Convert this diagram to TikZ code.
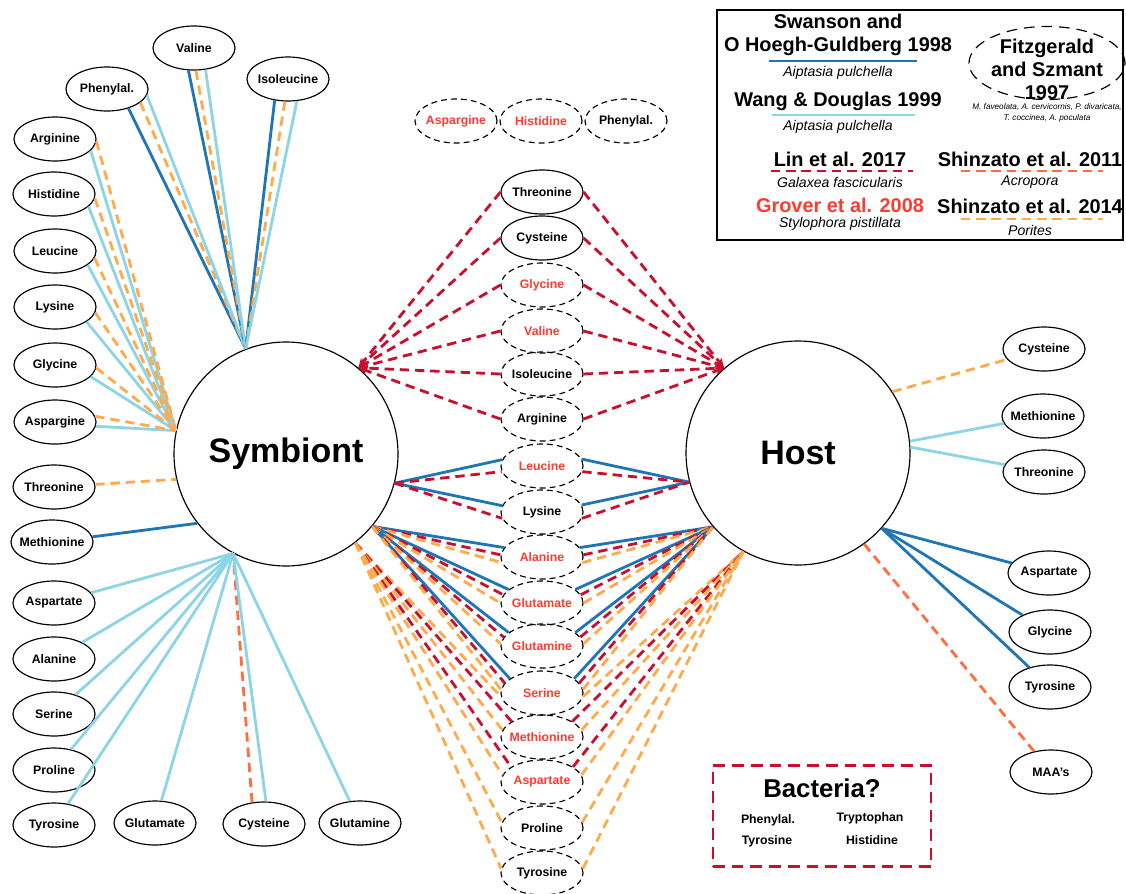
\documentclass[tikz,border=0pt]{standalone}
\usepackage{fontspec}
\setmainfont{Liberation Sans}
\usetikzlibrary{shapes.geometric,arrows.meta}

\definecolor{swanblue}{RGB}{31,117,182}
\definecolor{wangblue}{RGB}{140,212,230}
\definecolor{linred}{RGB}{200,16,46}
\definecolor{shzcoral}{RGB}{255,110,64}
\definecolor{shzorange}{RGB}{255,170,77}
\definecolor{groverred}{RGB}{255,59,48}

\tikzset{
  aanode/.style={ellipse, draw, line width=1pt, minimum width=2.46cm, minimum height=1.32cm,
    inner xsep=-5mm, inner ysep=0pt, font=\bfseries\fontsize{10.5}{12}\selectfont},
  aadash/.style={aanode, dash pattern=on 5pt off 3.5pt},
  hitred/.style={text=groverred},
  hub/.style={circle, draw, line width=1pt, minimum size=6.72cm, inner sep=0pt,
    font=\bfseries\fontsize{29}{34}\selectfont},
  swanline/.style={draw=swanblue, line width=2.4pt},
  wangline/.style={draw=wangblue, line width=2.4pt},
  linline/.style={draw=linred, line width=2.4pt, dash pattern=on 8pt off 5pt},
  shzaline/.style={draw=shzcoral, line width=2.4pt, dash pattern=on 8pt off 5pt},
  shzbline/.style={draw=shzorange, line width=2.4pt, dash pattern=on 8pt off 5pt},
  legendhead/.style={font=\bfseries\fontsize{17}{20}\selectfont, align=center, inner sep=0pt},
  legendsp/.style={font=\itshape\fontsize{12}{14}\selectfont, inner sep=0pt},
  bactitem/.style={font=\bfseries\fontsize{10.5}{12}\selectfont, inner sep=0pt}
}

\begin{document}
\begin{tikzpicture}[x=0.03cm, y=-0.03cm]
\useasboundingbox (0,0) rectangle (1126,893);
% Paths, nodes and wires:
\node[hub] (sym) at (286,454) {Symbiont};
\node[hub] (host) at (798,453) {Host};

% around the symbiont
\node[aanode] (l-phe) at (107,89) {Phenylal.};
\node[aanode] (l-val) at (194,48) {Valine};
\node[aanode] (l-ile) at (288,79) {Isoleucine};
\node[aanode] (l-arg) at (55,139) {Arginine};
\node[aanode] (l-his) at (54,194) {Histidine};
\node[aanode] (l-leu) at (55,251) {Leucine};
\node[aanode] (l-lys) at (55,307) {Lysine};
\node[aanode] (l-gly) at (55,365) {Glycine};
\node[aanode] (l-asn) at (55,422) {Aspargine};
\node[aanode] (l-thr) at (54,487) {Threonine};
\node[aanode] (l-met) at (52,542) {Methionine};
\node[aanode] (l-asp) at (54,603) {Aspartate};
\node[aanode] (l-ala) at (54,659) {Alanine};
\node[aanode] (l-ser) at (54,714) {Serine};
\node[aanode] (l-pro) at (54,770) {Proline};
\node[aanode] (l-tyr) at (54,825) {Tyrosine};
\node[aanode] (l-glu) at (155,823) {Glutamate};
\node[aanode] (l-cys) at (264,824) {Cysteine};
\node[aanode] (l-gln) at (360,823) {Glutamine};

% top row
\node[aadash, hitred] (t-asn) at (456,121) {Aspargine};
\node[aadash, hitred] (t-his) at (541,121) {Histidine};
\node[aadash] (t-phe) at (626,121) {Phenylal.};

% exchanged between symbiont and host
\node[aanode] (c-thr) at (542,192) {Threonine};
\node[aanode] (c-cys) at (542,238) {Cysteine};
\node[aadash, hitred] (c-gly) at (542,285) {Glycine};
\node[aadash, hitred] (c-val) at (542,331) {Valine};
\node[aadash] (c-ile) at (542,374) {Isoleucine};
\node[aadash] (c-arg) at (542,419) {Arginine};
\node[aadash, hitred] (c-leu) at (542,466) {Leucine};
\node[aadash] (c-lys) at (542,512) {Lysine};
\node[aadash, hitred] (c-ala) at (542,557) {Alanine};
\node[aadash, hitred] (c-glu) at (542,603) {Glutamate};
\node[aadash, hitred] (c-gln) at (542,646) {Glutamine};
\node[aadash, hitred] (c-ser) at (542,693) {Serine};
\node[aadash, hitred] (c-met) at (542,737) {Methionine};
\node[aadash, hitred] (c-asp) at (542,782) {Aspartate};
\node[aadash] (c-pro) at (542,828) {Proline};
\node[aadash] (c-tyr) at (542,873) {Tyrosine};

% around the host
\node[aanode] (r-cys) at (1044,349) {Cysteine};
\node[aanode] (r-met) at (1043,416) {Methionine};
\node[aanode] (r-thr) at (1044,472) {Threonine};
\node[aanode] (r-asp) at (1049,573) {Aspartate};
\node[aanode] (r-gly) at (1050,632) {Glycine};
\node[aanode] (r-tyr) at (1050,687) {Tyrosine};
\node[aanode] (r-maa) at (1051,772) {MAA's};

% meeting points on the circles
\coordinate (sT) at (sym.111);
\coordinate (sL) at (sym.168);
\coordinate (sThr) at (sym.193);
\coordinate (sMet) at (sym.218);
\coordinate (sB) at (sym.242);
\coordinate (sA) at (sym.50);
\coordinate (sC) at (sym.-15);
\coordinate (sD) at (sym.-40);
\coordinate (sE) at (sym.-52);
\coordinate (hA) at (host.131);
\coordinate (hC) at (host.195);
\coordinate (hD) at (host.221);
\coordinate (hE) at (host.241);
\coordinate (hCys) at (host.33);
\coordinate (hMet) at (host.6);
\coordinate (hThr) at (host.3);
\coordinate (hF) at (host.-42);
\coordinate (hMaa) at (host.-54);

% symbiont, top
\draw[swanline] (l-phe.-42) -- (sT);
\draw[shzbline] (l-phe.-22) -- (sT);
\draw[wangline] (l-phe.-9) -- (sT);
\draw[swanline] (l-val.-104) -- (sT);
\draw[shzbline] (l-val.-85) -- (sT);
\draw[wangline] (l-val.-62) -- (sT);
\draw[swanline] (l-ile.-122) -- (sT);
\draw[shzbline] (l-ile.-98) -- (sT);
\draw[wangline] (l-ile.-68) -- (sT);

% symbiont, left
\draw[wangline] (l-arg.-18) -- (sL);
\draw[shzbline] (l-arg.-3) -- (sL);
\draw[wangline] (l-his.-20) -- (sL);
\draw[shzbline] (l-his.-6) -- (sL);
\draw[wangline] (l-leu.-23) -- (sL);
\draw[shzbline] (l-leu.-10) -- (sL);
\draw[wangline] (l-lys.-25) -- (sL);
\draw[shzbline] (l-lys.-8) -- (sL);
\draw[wangline] (l-gly.-18) -- (sL);
\draw[shzbline] (l-gly.-4) -- (sL);
\draw[wangline] (l-asn.-6) -- (sL);
\draw[shzbline] (l-asn.8) -- (sL);
\draw[shzbline] (l-thr) -- (sThr);
\draw[swanline] (l-met) -- (sMet);

% symbiont, bottom
\draw[wangline] (l-asp) -- (sB);
\draw[wangline] (l-ala) -- (sB);
\draw[wangline] (l-ser) -- (sB);
\draw[wangline] (l-pro) -- (sB);
\draw[wangline] (l-tyr) -- (sB);
\draw[wangline] (l-glu) -- (sB);
\draw[shzaline] (l-cys.119) -- (sB);
\draw[wangline] (l-cys.85) -- (sB);
\draw[wangline] (l-gln) -- (sB);

% host, right
\draw[shzbline] (hCys) -- (r-cys);
\draw[wangline] (hMet) -- (r-met);
\draw[wangline] (hThr) -- (r-thr);
\draw[swanline] (hF) -- (r-asp);
\draw[swanline] (hF) -- (r-gly);
\draw[swanline] (hF) -- (r-tyr);
\draw[shzaline] (hMaa) -- (r-maa);

% to both, with arrows
\draw[linline, -{Stealth[length=8pt,width=7pt]}] (c-thr.west) -- (sA);
\draw[linline, -{Stealth[length=8pt,width=7pt]}] (c-cys.west) -- (sA);
\draw[linline, -{Stealth[length=8pt,width=7pt]}] (c-gly.west) -- (sA);
\draw[linline, -{Stealth[length=8pt,width=7pt]}] (c-val.west) -- (sA);
\draw[linline, -{Stealth[length=8pt,width=7pt]}] (c-ile.west) -- (sA);
\draw[linline, -{Stealth[length=8pt,width=7pt]}] (c-arg.west) -- (sA);
\draw[linline, -{Stealth[length=8pt,width=7pt]}] (c-thr.east) -- (hA);
\draw[linline, -{Stealth[length=8pt,width=7pt]}] (c-cys.east) -- (hA);
\draw[linline, -{Stealth[length=8pt,width=7pt]}] (c-gly.east) -- (hA);
\draw[linline, -{Stealth[length=8pt,width=7pt]}] (c-val.east) -- (hA);
\draw[linline, -{Stealth[length=8pt,width=7pt]}] (c-ile.east) -- (hA);
\draw[linline, -{Stealth[length=8pt,width=7pt]}] (c-arg.east) -- (hA);

% leucine, lysine
\draw[swanline] (sC) -- (c-leu.171);
\draw[linline] (sC) -- (c-leu.188);
\draw[swanline] (sC) -- (c-lys.171);
\draw[linline] (sC) -- (c-lys.189);
\draw[swanline] (c-leu.10) -- (hC);
\draw[linline] (c-leu.-8) -- (hC);
\draw[swanline] (c-lys.10) -- (hC);
\draw[linline] (c-lys.-9) -- (hC);

% alanine to serine
\draw[swanline] (sD) -- (c-ala.166);
\draw[linline] (sD) -- (c-ala.177);
\draw[shzbline] (sD) -- (c-ala.188);
\draw[swanline] (sD) -- (c-glu.158);
\draw[linline] (sD) -- (c-glu.168);
\draw[shzbline] (sD) -- (c-glu.180);
\draw[swanline] (sD) -- (c-gln.158);
\draw[linline] (sD) -- (c-gln.167);
\draw[shzbline] (sD) -- (c-gln.177);
\draw[swanline] (sD) -- (c-ser.156);
\draw[linline] (sD) -- (c-ser.165);
\draw[shzbline] (sD) -- (c-ser.175);
\draw[swanline] (c-ala.14) -- (hD);
\draw[linline] (c-ala.3) -- (hD);
\draw[shzbline] (c-ala.-8) -- (hD);
\draw[swanline] (c-glu.22) -- (hD);
\draw[linline] (c-glu.12) -- (hD);
\draw[shzbline] (c-glu.0) -- (hD);
\draw[swanline] (c-gln.22) -- (hD);
\draw[linline] (c-gln.13) -- (hD);
\draw[shzbline] (c-gln.3) -- (hD);
\draw[swanline] (c-ser.24) -- (hD);
\draw[linline] (c-ser.15) -- (hD);
\draw[shzbline] (c-ser.5) -- (hD);

% methionine to tyrosine
\draw[shzbline] (sE) -- (c-ser.185);
\draw[linline] (sE) -- (c-met.153);
\draw[shzbline] (sE) -- (c-met.170);
\draw[linline] (sE) -- (c-asp.154);
\draw[shzbline] (sE) -- (c-asp.170);
\draw[shzbline] (sE) -- (c-pro.172);
\draw[shzbline] (sE) -- (c-tyr.174);
\draw[shzbline] (c-ser.-5) -- (hE);
\draw[linline] (c-met.27) -- (hE);
\draw[shzbline] (c-met.10) -- (hE);
\draw[linline] (c-asp.26) -- (hE);
\draw[shzbline] (c-asp.10) -- (hE);
\draw[shzbline] (c-pro.8) -- (hE);
\draw[shzbline] (c-tyr.6) -- (hE);

% legend
\draw[line width=1pt] (717,10) rectangle (1123,240);
\node[legendhead] (swan-t) at (838,35) {Swanson and\\O Hoegh-Guldberg 1998};
\draw[swanline] (769,61) -- (917,61);
\node[legendsp] (swan-s) at (838,73) {Aiptasia pulchella};
\node[legendhead] (wang-t) at (838,101) {Wang \& Douglas 1999};
\draw[wangline] (772,115) -- (915,115);
\node[legendsp] (wang-s) at (838,127) {Aiptasia pulchella};
\node[ellipse, draw, line width=1pt, dash pattern=on 9pt off 6pt, minimum width=4.68cm,
  minimum height=2.19cm, inner sep=0pt] (fitz) at (1047,63) {};
\node[legendhead, font=\bfseries\fontsize{17}{19.6}\selectfont] (fitz-t) at (1047,69) {Fitzgerald\\and Szmant\\1997};
\node[font=\itshape\fontsize{7}{9.4}\selectfont, align=center, inner sep=0pt] (fitz-s) at (1047,113)
  {M. faveolata, A. cervicornis, P. divaricata,\\T. coccinea, A. poculata};
\node[legendhead] (lin-t) at (840,159) {Lin et al. 2017};
\draw[linline] (771,171) -- (913,171);
\node[legendsp] (lin-s) at (840,182) {Galaxea fascicularis};
\node[legendhead] (shza-t) at (1030,159) {Shinzato et al. 2011};
\draw[shzaline] (961,171) -- (1103,171);
\node[legendsp] (shza-s) at (1030,182) {Acropora};
\node[legendhead, text=groverred] (grov-t) at (840,205) {Grover et al. 2008};
\node[legendsp] (grov-s) at (840,224) {Stylophora pistillata};
\node[legendhead] (shzb-t) at (1030,206) {Shinzato et al. 2014};
\draw[shzbline] (961,219) -- (1103,219);
\node[legendsp] (shzb-s) at (1030,230) {Porites};

% bacteria box
\node[draw=linred, line width=2.4pt, dash pattern=on 10pt off 6pt, minimum width=6.54cm,
  minimum height=3.03cm] (bact) at (822,816) {};
\node[font=\bfseries\fontsize{22}{26}\selectfont, inner sep=0pt] (bact-t) at (822,788) {Bacteria?};
\node[bactitem] (b-phe) at (768,820) {Phenylal.};
\node[bactitem] (b-tyr) at (767,841) {Tyrosine};
\node[bactitem] (b-trp) at (870,818) {Tryptophan};
\node[bactitem] (b-his) at (872,840) {Histidine};
\end{tikzpicture}
\end{document}
